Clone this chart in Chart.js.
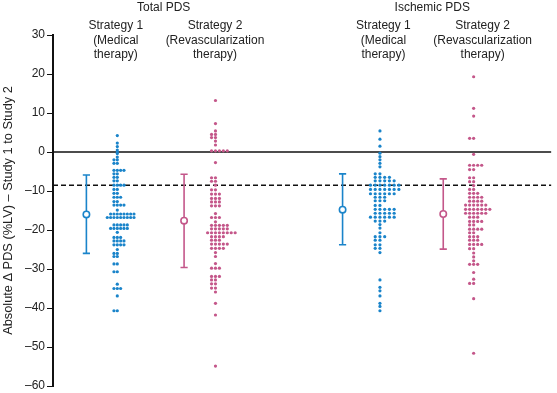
<!DOCTYPE html>
<html>
<head>
<meta charset="utf-8">
<script src="https://cdn.jsdelivr.net/npm/chart.js@4.4.1/dist/chart.umd.min.js"></script>
<style>
  body { margin: 0; background: #fff; }
  #wrap { width: 557px; height: 393px; }
</style>
</head>
<body>
<div id="wrap"><canvas id="dotChart" width="557" height="393"></canvas></div>
<script>
// Values (change in PDS, %LV)
const totalMedical = [
  4.2, 2.3, 1.4, 0.5, 0, -0.4, -1.3, -2.0, -2.0, -2.9, -2.9,
  -4.7, -4.7, -4.7, -4.7, -5.6, -5.6, -6.5, -6.5, -7.4, -7.4,
  -8.5, -8.5, -8.5, -8.5, -9.6, -9.6, -10.6, -10.6, -11.6, -11.6, -11.6,
  -12.7, -12.7, -13.6, -13.6, -13.6, -13.6, -14.9,
  -15.9, -15.9, -15.9, -15.9, -15.9, -15.9, -15.9, -15.9,
  -16.8, -16.8, -16.8, -16.8, -16.8, -16.8, -16.8, -16.8, -16.8,
  -18.7, -18.7, -18.7, -18.7, -18.7,
  -19.6, -19.6, -19.6, -19.6, -19.6, -19.6, -20.6,
  -21.9, -21.9, -21.9, -22.8, -22.8, -22.8, -22.8,
  -23.8, -23.8, -23.8, -23.8, -25.0, -26.0, -26.0, -26.8, -26.8,
  -28.7, -28.7, -30.7, -30.7, -33.9, -35.0, -35.0, -35.0, -36.9, -40.7, -40.7
];
const totalRevasc = [
  13.2, 7.3, 5.4, 4.5, 4.5, 3.7, 3.7, 2.8, 1.8, 0.3, 0.3, 0.3, 0.3, 0.3,
  -2.7, -6.6, -6.6, -7.5, -7.5, -8.5, -9.7, -9.7,
  -10.8, -10.8, -10.8, -11.9, -11.9, -11.9, -12.8, -12.8, -12.8, -13.8, -13.8, -13.8,
  -15.8, -16.8, -16.8, -16.8, -17.9,
  -18.8, -18.8, -18.8, -18.8, -18.8, -19.7, -19.7, -19.7, -19.7, -19.7,
  -20.7, -20.7, -20.7, -20.7, -20.7, -20.7, -20.7, -20.7,
  -21.7, -21.7, -21.7, -21.7, -22.6, -22.6, -22.6,
  -23.6, -23.6, -23.6, -23.6, -23.6, -24.7, -24.7, -24.7, -24.7,
  -25.8, -26.8, -28.6, -29.8, -29.8, -29.8, -31.9, -31.9, -31.9,
  -32.8, -32.8, -33.8, -33.8, -34.9, -34.9, -35.9, -38.8, -41.8, -54.9
];
const ischMedical = [
  5.4, 3.3, 1.5, -0.3, -1.2, -2.0, -2.9, -3.8, -5.6, -5.6,
  -6.5, -6.5, -6.5, -6.5, -7.4, -7.4, -7.4, -7.4, -7.4,
  -8.5, -8.5, -8.5, -8.5, -8.5, -8.5, -8.5,
  -9.6, -9.6, -9.6, -9.6, -9.6, -9.6, -9.6,
  -10.7, -10.7, -10.7, -10.7, -10.7, -10.7,
  -11.6, -11.6, -11.6, -12.5, -12.5, -12.5, -13.7, -13.7,
  -14.7, -14.7, -14.7, -14.7, -14.7, -15.7, -15.7, -15.7, -15.7, -15.7,
  -16.7, -16.7, -16.7, -16.7, -16.7, -16.7, -17.7, -17.7, -17.7,
  -18.6, -19.5, -20.7, -21.7, -21.7, -21.7, -22.6, -22.6,
  -23.8, -23.8, -24.7, -24.7, -25.8,
  -32.8, -34.7, -35.6, -36.9, -38.8, -39.6, -40.7
];
const ischRevasc = [
  19.3, 11.2, 9.2, 3.5, 3.5, -0.6, -3.4, -3.4, -3.4, -3.4, -4.5, -4.5,
  -6.6, -6.6, -7.6, -7.6, -8.6, -9.6, -9.6, -10.6, -10.6, -10.6,
  -11.6, -11.6, -11.6, -11.6, -12.6, -12.6, -12.6, -12.6,
  -13.6, -13.6, -13.6, -13.6, -13.6, -13.6,
  -14.7, -14.7, -14.7, -14.7, -14.7, -14.7, -14.7,
  -15.7, -15.7, -15.7, -15.7, -15.7, -15.7, -16.7, -16.7, -16.7,
  -17.8, -17.8, -17.8, -17.8, -18.7, -18.7, -19.8, -19.8, -19.8, -19.8,
  -20.7, -20.7, -21.7, -21.7, -21.7, -22.6, -22.6, -22.6,
  -23.7, -23.7, -23.7, -23.7, -24.8, -24.8, -25.9, -26.9, -27.9,
  -28.8, -28.8, -28.8, -30.9, -32.6, -33.7, -33.7, -37.6, -51.6
];

// mean and whisker ends of each group
const groupMeans = [-16.0, -17.6, -14.8, -15.9];
const groupUpper = [-5.9, -5.7, -5.6, -6.9];
const groupLower = [-26.0, -29.6, -23.8, -24.9];

const yTicks = [30, 20, 10, 0, -10, -20, -30, -40, -50, -60];
const thresholdLine = -8.5;

const groupTitles = ['Total PDS', 'Ischemic PDS'];
const strategyLabels = [
  ['Strategy 1', '(Medical', 'therapy)'],
  ['Strategy 2', '(Revascularization', 'therapy)'],
  ['Strategy 1', '(Medical', 'therapy)'],
  ['Strategy 2', '(Revascularization', 'therapy)']
];

// horizontal placement on a 0-100 x scale
const swarmX = [12.9, 32.6, 65.6, 84.4];
const swarmStep = [0.67, 0.79, 0.95, 0.81];
const errorX = [6.7, 26.3, 58.1, 78.3];
const titleX = [22.2, 76.1];
const labelX = [12.6, 32.5, 66.3, 86.2];

const BLUE = '#1a84ca';
const PINK = '#c4578a';
const groupColors = [BLUE, PINK, BLUE, PINK];
const FONT = '"Liberation Sans", Arial, sans-serif';

// dots sharing a value go side by side, in this column order
const fillOrder = [0, -1, 1, 2, 3, -2, 4, 5, -3, 6, 7, 8, 9, 10];

function swarm(values, center, step) {
  const used = {};
  return values.map(v => {
    const key = v.toFixed(1);
    const n = used[key] || 0;
    used[key] = n + 1;
    return { x: center + fillOrder[n] * step, y: v };
  });
}

const groups = [totalMedical, totalRevasc, ischMedical, ischRevasc];
const datasets = [];

groups.forEach((vals, i) => {
  const c = groupColors[i];
  datasets.push({
    type: 'scatter',
    data: [{ x: errorX[i], y: groupMeans[i] }],
    pointRadius: 3.2,
    pointBackgroundColor: '#fff',
    pointBorderColor: c,
    pointBorderWidth: 1.6,
    order: 0
  });
  datasets.push({
    type: 'scatter',
    data: [{ x: errorX[i], y: groupUpper[i] }, { x: errorX[i], y: groupLower[i] }],
    pointStyle: 'line',
    pointRadius: 3.6,
    pointBorderColor: c,
    pointBorderWidth: 1.6,
    order: 1
  });
  datasets.push({
    type: 'line',
    data: [{ x: errorX[i], y: groupLower[i] }, { x: errorX[i], y: groupUpper[i] }],
    borderColor: c,
    borderWidth: 1.6,
    pointRadius: 0,
    order: 2
  });
  datasets.push({
    type: 'scatter',
    data: swarm(vals, swarmX[i], swarmStep[i]),
    pointRadius: 1.6,
    pointBackgroundColor: c,
    pointBorderWidth: 0,
    order: 3
  });
});

datasets.push({
  type: 'line',
  data: [{ x: 0, y: 0 }, { x: 100, y: 0 }],
  borderColor: '#111',
  borderWidth: 1.5,
  pointRadius: 0,
  order: 5
});
datasets.push({
  type: 'line',
  data: [{ x: 0, y: thresholdLine }, { x: 100, y: thresholdLine }],
  borderColor: '#111',
  borderWidth: 1.5,
  borderDash: [5, 3],
  pointRadius: 0,
  order: 5
});

const headerPlugin = {
  id: 'headers',
  afterDraw(chart) {
    const ctx = chart.ctx;
    const xs = chart.scales.x;
    ctx.save();
    ctx.fillStyle = '#222';
    ctx.textAlign = 'center';
    ctx.textBaseline = 'middle';
    ctx.font = '12px ' + FONT;
    groupTitles.forEach((t, i) => {
      ctx.fillText(t, xs.getPixelForValue(titleX[i]), 8);
    });
    strategyLabels.forEach((lines, i) => {
      lines.forEach((line, j) => {
        ctx.fillText(line, xs.getPixelForValue(labelX[i]), 26 + j * 14.5);
      });
    });
    ctx.restore();
  }
};

new Chart(document.getElementById('dotChart'), {
  type: 'scatter',
  data: { datasets },
  plugins: [headerPlugin],
  options: {
    responsive: false,
    animation: false,
    layout: { padding: { top: 35, right: 0, bottom: 7, left: 0 } },
    plugins: {
      legend: { display: false },
      tooltip: { enabled: false }
    },
    scales: {
      x: {
        type: 'linear',
        min: 0,
        max: 100,
        display: false
      },
      y: {
        type: 'linear',
        min: -60,
        max: 30,
        afterFit(scale) {
          scale.width = 53;
          scale.paddingTop = 0;
          scale.paddingBottom = 0;
        },
        afterBuildTicks(scale) { scale.ticks = yTicks.map(v => ({ value: v })); },
        border: { color: '#111', width: 2 },
        grid: { drawOnChartArea: false, drawTicks: true, tickLength: 6, tickColor: '#111', tickWidth: 1 },
        ticks: {
          padding: 2,
          color: '#222',
          font: { family: FONT, size: 12 },
          callback: v => (v < 0 ? '\u2013' + Math.abs(v) : String(v))
        },
        title: {
          display: true,
          text: 'Absolute \u0394 PDS (%LV) \u2013 Study 1 to Study 2',
          color: '#222',
          font: { family: FONT, size: 12.8 },
          padding: { top: 1, bottom: 0 }
        }
      }
    }
  }
});
</script>
</body>
</html>
